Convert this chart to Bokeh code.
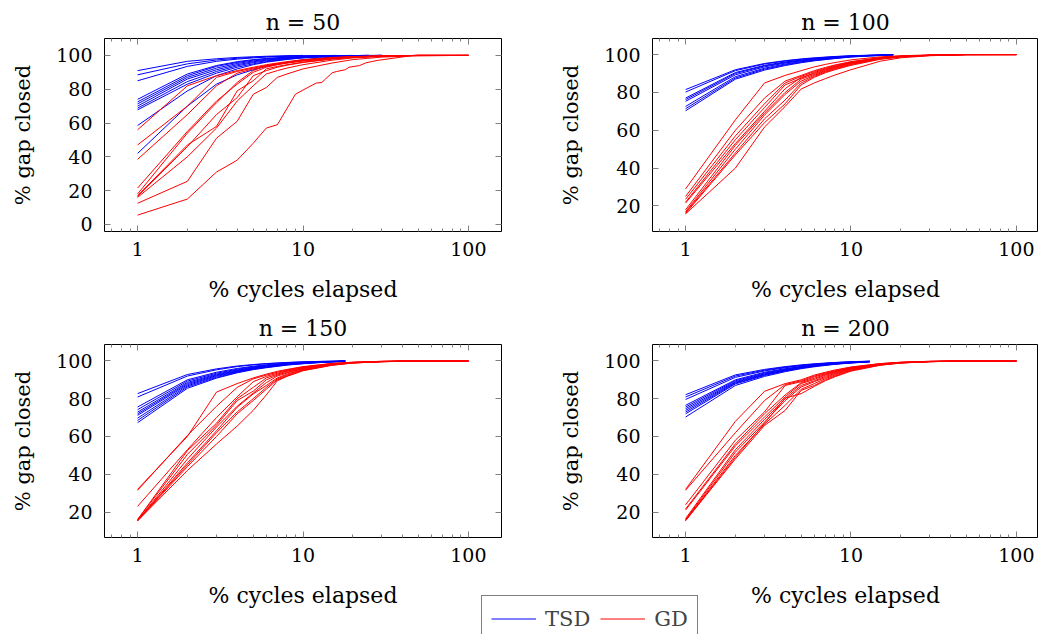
from bokeh.plotting import figure
from bokeh.layouts import row, column
from bokeh.models import (FixedTicker, LogAxis, LinearAxis, Legend, LegendItem,
                          Range1d, PrintfTickFormatter)
from bokeh.embed import file_html
from bokeh.resources import INLINE

# ---------------- data ----------------
TITLES = ["n = 50", "n = 100", "n = 150", "n = 200"]
X_LABEL = "% cycles elapsed"
Y_LABEL = "% gap closed"
X_TICKS = [1, 10, 100]
Y_TICKS_50 = [0, 20, 40, 60, 80, 100]
Y_TICKS = [20, 40, 60, 80, 100]
SERIES = ["TSD", "GD"]

X_GD = [1, 2, 3, 4, 5, 6, 7, 8, 10, 15, 20, 30, 50, 100]
X_TSD_50 = [1, 2, 3, 4, 5, 6, 8, 10, 13, 16, 20, 25, 30]
X_TSD_100 = [1, 2, 3, 4, 5, 6, 8, 10, 13, 16, 18]
X_TSD_150 = [1, 2, 3, 4, 5, 6, 8, 10, 13, 16, 18]
X_TSD_200 = [1, 2, 3, 4, 5, 6, 8, 10, 12, 13]

TSD_50 = [
    [91, 96.5, 98, 98.8, 99.2, 99.5, 99.8, 100],
    [88.5, 95, 97.3, 98.3, 98.9, 99.2, 99.6, 99.8, 99.9, 100],
    [85, 93.5, 96.5, 97.8, 98.5, 99, 99.5, 99.7, 99.8, 99.9, 100],
    [74, 89, 94, 96.3, 97.5, 98.2, 99, 99.4, 99.6, 99.8, 99.9, 100],
    [72.5, 88, 93.5, 95.8, 97.2, 98, 98.9, 99.3, 99.6, 99.8, 99.9, 100],
    [71.3, 87, 92.5, 95.2, 96.7, 97.6, 98.6, 99.1, 99.5, 99.7, 99.9, 100],
    [70, 86, 91.5, 94.5, 96.2, 97.2, 98.4, 99, 99.4, 99.7, 99.9, 100, 100],
    [68.8, 84.5, 90.5, 93.8, 95.7, 96.8, 98.1, 98.8, 99.3, 99.6, 99.8, 99.9, 100],
    [67.8, 83, 89.5, 93, 95, 96.3, 97.8, 98.6, 99.2, 99.5, 99.8, 99.9, 100],
    [58.5, 79, 88, 92, 94.5, 96, 97.6, 98.5, 99.1, 99.5, 99.8, 99.9, 100],
    [42, 70, 83, 88.5, 91.5, 93.5, 96, 97.4, 98.6, 99.2, 99.6, 99.9, 100],
]
GD_50 = [
    [56, 82, 88, 91, 93, 94.5, 95.5, 96.3, 97.5, 98.8, 99.3, 99.7, 100, 100],
    [47, 70, 87, 90.5, 92.5, 94, 95, 95.8, 97, 98.5, 99.2, 99.7, 100, 100],
    [38.5, 65, 82, 89.5, 92, 93.5, 94.7, 95.5, 96.8, 98.4, 99.1, 99.6, 100, 100],
    [21.5, 55, 73, 83, 90, 93, 94.5, 95.5, 96.7, 98.3, 99, 99.6, 100, 100],
    [18, 54, 72, 84, 91, 94, 95, 96, 97, 98.5, 99.2, 99.7, 100, 100],
    [17, 47, 58, 79, 85, 92, 93.5, 94.5, 96, 98, 99, 99.6, 100, 100],
    [16.5, 46, 65, 75, 88, 91, 93, 94.2, 95.8, 97.8, 98.8, 99.5, 100, 100],
    [16, 40, 57, 73, 82, 89, 91, 92.5, 94.5, 97.2, 98.5, 99.4, 100, 100],
    [12.5, 25.5, 51, 61, 77, 81, 87, 89, 92, 95.5, 97.5, 99, 99.8, 100],
]
X_GD_50_SLOW = [1, 2, 3, 4, 5, 6, 7, 9, 10, 12, 13, 15, 16, 18, 19, 22, 24, 28, 45, 100]
GD_50_SLOW = [5.5, 15, 31, 38, 48, 57, 59, 77, 79.5, 83.6, 84, 89.7, 90.5, 91.5, 93, 94,
              95.6, 97, 99.8, 100]

TSD_100 = [
    [81.5, 92, 95.3, 96.8, 97.7, 98.3, 99, 99.4, 99.7, 99.9, 100],
    [80.2, 91.5, 95, 96.6, 97.5, 98.1, 98.9, 99.3, 99.6, 99.8, 99.9],
    [77, 90.5, 94.3, 96.1, 97.1, 97.8, 98.7, 99.2, 99.6, 99.8, 99.9],
    [76.2, 90, 94, 95.8, 96.9, 97.6, 98.6, 99.1, 99.5, 99.7, 99.9],
    [75.3, 89.3, 93.5, 95.5, 96.7, 97.4, 98.4, 99, 99.5, 99.7, 99.9],
    [72.6, 88.3, 92.8, 95, 96.3, 97.1, 98.2, 98.9, 99.4, 99.7, 99.9],
    [71.4, 87.6, 92.3, 94.6, 96, 96.9, 98, 98.8, 99.3, 99.6, 99.8],
    [70.3, 87, 91.8, 94.2, 95.7, 96.7, 97.9, 98.7, 99.3, 99.6, 99.8],
]
GD_100 = [
    [29, 65.5, 85, 89, 91.5, 93.5, 94.8, 95.8, 97.2, 98.8, 99.4, 99.8, 100, 100],
    [25, 60, 77, 86, 89, 91.5, 93.2, 94.5, 96.3, 98.4, 99.2, 99.7, 100, 100],
    [23.5, 57, 74, 85, 88.5, 91, 92.8, 94.2, 96, 98.3, 99.1, 99.7, 100, 100],
    [22, 55, 72, 84, 87.5, 90.5, 92.4, 93.8, 95.8, 98.2, 99.1, 99.7, 100, 100],
    [21.5, 53, 70, 82, 88, 90, 92, 93.5, 95.6, 98.1, 99, 99.6, 100, 100],
    [18, 52, 69, 80, 87, 89.5, 91.6, 93.2, 95.3, 98, 99, 99.6, 100, 100],
    [17, 50, 68, 79, 86, 89, 91.2, 92.8, 95, 97.8, 98.9, 99.6, 100, 100],
    [16.5, 48, 66, 76, 85, 88.5, 90.8, 92.4, 94.7, 97.7, 98.8, 99.6, 100, 100],
    [16, 47, 64, 74, 84, 88, 90.4, 92, 94.3, 97.5, 98.7, 99.5, 100, 100],
    [15.8, 40, 61.7, 72.6, 81.8, 85, 87.3, 89.2, 92, 96.5, 98.3, 99.4, 99.9, 100],
]

TSD_150 = [
    [82.7, 92.8, 95.8, 97.3, 98.1, 98.6, 99.2, 99.5, 99.8, 99.9, 100],
    [80.9, 92, 95.3, 97, 97.9, 98.5, 99.1, 99.5, 99.7, 99.9, 100],
    [75.6, 90, 94, 96, 97.2, 98, 98.8, 99.2, 99.6, 99.8, 99.9],
    [74.2, 89.3, 93.5, 95.6, 96.9, 97.7, 98.6, 99.1, 99.5, 99.8, 99.9],
    [72.9, 88.6, 93, 95.2, 96.6, 97.4, 98.5, 99, 99.5, 99.7, 99.9],
    [72, 88, 92.6, 94.9, 96.3, 97.2, 98.3, 98.9, 99.4, 99.7, 99.9],
    [71.2, 87.4, 92.2, 94.6, 96.1, 97, 98.2, 98.8, 99.4, 99.7, 99.9],
    [69.7, 86.8, 91.8, 94.3, 95.9, 96.8, 98.1, 98.7, 99.3, 99.6, 99.8],
    [68.5, 86.2, 91.3, 94, 95.6, 96.6, 97.9, 98.6, 99.3, 99.6, 99.8],
    [67.3, 85.5, 90.9, 93.7, 95.4, 96.4, 97.8, 98.5, 99.2, 99.6, 99.8],
]
GD_150 = [
    [32, 60, 83.5, 88, 91, 93, 94.5, 95.5, 97, 98.7, 99.3, 99.8, 100, 100],
    [31.5, 60.5, 76, 86, 90.5, 92.5, 94, 95.2, 96.8, 98.6, 99.3, 99.8, 100, 100],
    [23, 53, 70, 81, 89, 91.8, 93.5, 94.8, 96.5, 98.5, 99.2, 99.7, 100, 100],
    [16, 52.5, 67, 80, 86, 91, 93, 94.5, 96.3, 98.4, 99.2, 99.7, 100, 100],
    [16, 50.5, 66, 79, 84, 90, 92.5, 94, 96, 98.3, 99.1, 99.7, 100, 100],
    [15.5, 48, 65, 76, 83, 88.5, 92, 93.6, 95.8, 98.2, 99.1, 99.7, 100, 100],
    [15.5, 46, 63, 75.5, 82.5, 87, 91, 93, 95.5, 98, 99, 99.6, 100, 100],
    [15.5, 45, 62, 73, 80, 86, 90.5, 92.5, 95.2, 97.9, 99, 99.6, 100, 100],
    [15.3, 42, 56, 65.5, 73.8, 82, 89.5, 91.8, 94.8, 97.7, 98.9, 99.6, 100, 100],
    [15.3, 44, 60, 72, 79, 85, 90, 92, 95, 97.8, 98.9, 99.6, 100, 100],
]

TSD_200 = [
    [82.1, 92.6, 95.5, 97, 97.9, 98.5, 99.2, 99.6, 99.8, 99.9],
    [80.9, 92, 95.1, 96.7, 97.7, 98.3, 99.1, 99.5, 99.7, 99.8],
    [79.6, 91.3, 94.7, 96.4, 97.5, 98.2, 99, 99.4, 99.7, 99.8],
    [76.5, 90, 94, 95.9, 97.1, 97.9, 98.8, 99.3, 99.6, 99.7],
    [75.6, 89.5, 93.6, 95.6, 96.9, 97.7, 98.7, 99.2, 99.5, 99.7],
    [74.7, 89, 93.2, 95.3, 96.7, 97.5, 98.6, 99.1, 99.5, 99.7],
    [73.8, 88.6, 92.9, 95.1, 96.5, 97.4, 98.5, 99.1, 99.4, 99.6],
    [72.9, 88.2, 92.6, 94.9, 96.3, 97.3, 98.4, 99, 99.4, 99.6],
    [72, 87.8, 92.3, 94.7, 96.2, 97.2, 98.3, 99, 99.3, 99.6],
    [70.3, 87, 91.8, 94.3, 95.9, 96.9, 98.2, 98.9, 99.3, 99.5],
]
GD_200 = [
    [32, 68, 83.9, 88, 90, 92.5, 94, 95.2, 96.8, 98.6, 99.3, 99.8, 100, 100],
    [31.5, 62, 79, 87.5, 89.5, 92, 93.6, 94.8, 96.6, 98.5, 99.3, 99.8, 100, 100],
    [23.8, 58, 73, 87, 89, 91.5, 93.2, 94.5, 96.4, 98.4, 99.2, 99.7, 100, 100],
    [21.6, 56, 72, 82, 88.5, 90.8, 92.8, 94.2, 96.2, 98.3, 99.2, 99.7, 100, 100],
    [21, 55, 70.3, 81, 88, 90.2, 92.4, 93.8, 96, 98.2, 99.1, 99.7, 100, 100],
    [16.5, 53, 69, 80, 87, 89.5, 91.8, 93.4, 95.8, 98.1, 99.1, 99.7, 100, 100],
    [16, 51.7, 67.6, 79, 86.2, 89, 91.2, 93, 95.5, 98, 99, 99.6, 100, 100],
    [15.7, 50, 66.5, 76.5, 85, 88, 90.6, 92.5, 95.2, 97.9, 99, 99.6, 100, 100],
    [15.4, 48.1, 65.8, 73.8, 84.4, 87, 90, 92, 94.9, 97.8, 98.9, 99.6, 100, 100],
    [15.4, 49, 67, 80.3, 82.7, 86.5, 89.5, 91.6, 94.6, 97.7, 98.9, 99.6, 100, 100],
]

# ---------------- style ----------------
FONT = "DejaVu Serif"
BLUE = "#0000ff"
RED = "#ff0000"
TICK_GRAY = "#808080"
MINOR_X = [m * 10.0 ** e for e in range(-1, 3) for m in range(2, 10)]


def style_axis(ax, labels=True, label_size="21px"):
    ax.axis_line_color = None
    ax.major_tick_in = 6
    ax.major_tick_out = 0
    ax.minor_tick_in = 3
    ax.minor_tick_out = 0
    ax.major_tick_line_color = TICK_GRAY
    ax.minor_tick_line_color = TICK_GRAY
    if labels:
        ax.major_label_text_font = FONT
        ax.major_label_text_font_size = "19px"
        ax.major_label_text_color = "black"
        ax.axis_label_text_font = FONT
        ax.axis_label_text_font_size = label_size
        ax.axis_label_text_font_style = "normal"
        ax.axis_label_text_color = "black"
    else:
        ax.major_label_text_font_size = "1px"
        ax.major_label_text_color = None
        ax.major_label_standoff = 0


def make_panel(title, tsd_x, tsd, gd_x, gd, y_ticks, y_range, x_end,
               width, height, mb_left, mb_right, mb_top, mb_bottom, mirror_right,
               extra=None):
    p = figure(width=width, height=height, x_axis_type="log",
               x_range=Range1d(10 ** -0.2, x_end), y_range=Range1d(*y_range),
               output_backend="svg", toolbar_location=None,
               min_border_left=mb_left, min_border_right=mb_right,
               min_border_top=mb_top, min_border_bottom=mb_bottom,
               title=title)
    p.title.text_font = FONT
    p.title.text_font_size = "22px"
    p.title.text_font_style = "normal"
    p.title.text_color = "black"
    p.title.align = "center"
    p.title.standoff = 7
    p.xgrid.visible = False
    p.ygrid.visible = False
    p.outline_line_color = "black"
    p.outline_line_width = 1
    p.outline_line_alpha = 1

    xt = FixedTicker(ticks=X_TICKS, minor_ticks=MINOR_X)
    yt = FixedTicker(ticks=y_ticks, minor_ticks=[])
    p.xaxis.ticker = xt
    p.xaxis.formatter = PrintfTickFormatter(format="%d")
    p.yaxis.ticker = yt
    p.xaxis.axis_label = X_LABEL
    p.yaxis.axis_label = Y_LABEL
    for ax in p.xaxis:
        style_axis(ax, label_size="22px")
        ax.major_label_standoff = 10
        ax.axis_label_standoff = 18
    for ax in p.yaxis:
        style_axis(ax, label_size="21px")
        ax.major_label_standoff = 12
        ax.axis_label_standoff = 18

    top = LogAxis(ticker=xt)
    style_axis(top, labels=False)
    p.add_layout(top, "above")
    if mirror_right:
        right = LinearAxis(ticker=yt)
        style_axis(right, labels=False)
        right.minor_tick_in = 0
        p.add_layout(right, "right")

    for ys in tsd:
        p.line(tsd_x[:len(ys)], ys, line_color=BLUE, line_width=1)
    for ys in gd:
        p.line(gd_x[:len(ys)], ys, line_color=RED, line_width=1)
    if extra is not None:
        p.line(extra[0], extra[1], line_color=RED, line_width=1)
    return p


# layout (pixels)
W_LEFT, W_RIGHT = 521, 517
H_TOP, H_BOT = 310, 324
X_END_LEFT = 10 ** 2.2
X_END_RIGHT = 10 ** (-0.2 + 386 / 165.4)

p1 = make_panel(TITLES[0], X_TSD_50, TSD_50, X_GD, GD_50, Y_TICKS_50, (-4.2, 110),
                X_END_LEFT, W_LEFT, H_TOP, 104, 20, 38, 79, True,
                extra=(X_GD_50_SLOW, GD_50_SLOW))
p2 = make_panel(TITLES[1], X_TSD_100, TSD_100, X_GD, GD_100, Y_TICKS, (6.5, 108.5),
                X_END_RIGHT, W_RIGHT, H_TOP, 131, 0, 38, 79, False)
p3 = make_panel(TITLES[2], X_TSD_150, TSD_150, X_GD, GD_150, Y_TICKS, (6.5, 108.7),
                X_END_LEFT, W_LEFT, H_BOT, 104, 20, 34, 97, True)
p4 = make_panel(TITLES[3], X_TSD_200, TSD_200, X_GD, GD_200, Y_TICKS, (6.5, 108.7),
                X_END_RIGHT, W_RIGHT, H_BOT, 131, 0, 34, 97, False)

# legend figure overlapping the bottom of the lower row
leg = figure(width=240, height=40, x_range=Range1d(0, 1), y_range=Range1d(0, 1),
             output_backend="svg", toolbar_location=None,
             x_axis_location=None, y_axis_location=None,
             min_border_left=0, min_border_right=0, min_border_top=0, min_border_bottom=0)
leg.outline_line_color = None
leg.xgrid.visible = False
leg.ygrid.visible = False
leg.background_fill_alpha = 0
leg.border_fill_alpha = 0
r_tsd = leg.line([-1, -1], [-1, -1], line_color=BLUE, line_width=1)
r_gd = leg.line([-1, -1], [-1, -1], line_color=RED, line_width=1)
legend = Legend(items=[LegendItem(label=SERIES[0], renderers=[r_tsd]),
                       LegendItem(label=SERIES[1], renderers=[r_gd])],
                orientation="horizontal", location="top_left", margin=1,
                padding=9, spacing=10, label_standoff=9,
                glyph_width=45, glyph_height=27, label_height=27,
                label_text_font=FONT, label_text_font_size="21px",
                border_line_color="black", border_line_width=1,
                background_fill_color="white", background_fill_alpha=1)
leg.add_layout(legend)
leg.margin = (-40, 0, 0, 480)

layout = column(row(p1, p2), row(p3, p4), leg)

with open("out.html", "w") as f:
    f.write(file_html(layout, INLINE))
